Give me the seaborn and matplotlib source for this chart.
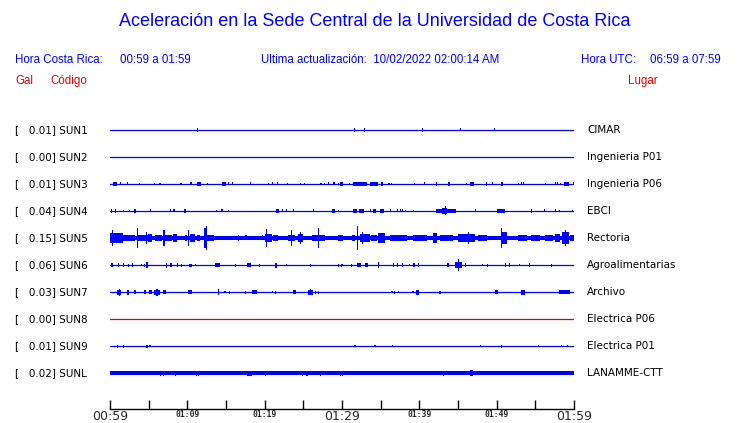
import pandas as pd
import seaborn as sns
import matplotlib
matplotlib.use("Agg")
import matplotlib.pyplot as plt
import matplotlib.transforms as mtransforms

# station info (top to bottom)
codes = ["SUN1", "SUN2", "SUN3", "SUN4", "SUN5", "SUN6", "SUN7", "SUN8", "SUN9", "SUNL"]
places = ["CIMAR", "Ingenieria P01", "Ingenieria P06", "EBCI", "Rectoria",
          "Agroalimentarias", "Archivo", "Electrica P06", "Electrica P01", "LANAMME-CTT"]
gal = [0.01, 0.00, 0.01, 0.04, 0.15, 0.06, 0.03, 0.00, 0.01, 0.02]

# window: minutes after 00:59 local time
t_start, t_end = 0, 60

# continuous background noise half-width per station
band_amp = [0, 0, 0, 0, 1.8, 0, 0, 0, 0, 1.6]

# bursts: (start minute, end minute, half amplitude)
sun1 = [(11.2, 11.2, 2), (31.5, 31.5, 2), (32.8, 32.8, 2), (40.3, 40.3, 2),
        (45.3, 45.3, 1.5), (49.6, 49.6, 1.5)]
sun2 = []
sun3 = [(0.4, 0.9, 2), (1.3, 1.3, 1.5), (2.2, 2.2, 1.5), (3.7, 3.7, 1), (5.7, 5.7, 1),
        (6.4, 6.4, 1), (9.1, 9.1, 1), (10.4, 10.4, 1.5), (11.3, 11.8, 2), (12.5, 12.5, 1),
        (14.5, 15.0, 2), (15.3, 15.3, 1.5), (15.8, 15.8, 1.5), (18.1, 18.1, 1.5),
        (20.4, 20.4, 1), (20.9, 21.1, 1.5), (21.6, 21.6, 1.5), (22.9, 22.9, 1),
        (24.6, 24.6, 1), (25.1, 25.1, 1), (27.2, 27.2, 1), (27.7, 27.7, 1),
        (28.2, 28.2, 1.5), (28.9, 28.9, 1.5), (29.5, 29.5, 1), (29.8, 30.1, 2),
        (30.9, 30.9, 1), (31.4, 33.2, 2), (33.6, 34.6, 2), (35.0, 35.3, 2),
        (36.0, 36.0, 1), (36.3, 36.3, 1), (39.3, 39.3, 1), (40.6, 40.6, 1.5),
        (42.1, 42.1, 2), (43.7, 44.0, 2), (46.0, 46.0, 1), (46.6, 47.1, 2),
        (48.6, 48.8, 2), (49.4, 49.4, 1.5), (50.6, 50.8, 2), (52.8, 52.8, 1),
        (53.1, 53.1, 1.5), (53.4, 53.4, 1.5), (56.2, 56.2, 1), (57.5, 57.5, 1.5),
        (57.8, 57.8, 1.5), (58.2, 58.2, 1), (58.7, 59.3, 2), (59.9, 59.9, 1.5)]
sun4 = [(0.1, 0.1, 2), (0.6, 0.6, 2), (1.7, 1.7, 1), (2.4, 2.4, 1), (3.1, 3.4, 2),
        (5.2, 5.2, 1.5), (7.7, 7.7, 1.5), (8.2, 8.2, 1.5), (9.6, 9.8, 2), (13.7, 13.7, 1),
        (14.4, 14.4, 1.5), (15.2, 15.2, 1), (21.5, 21.9, 2), (22.2, 22.2, 1.5),
        (22.8, 22.8, 1.5), (23.6, 23.6, 1.5), (26.2, 26.2, 1.5), (28.7, 29.1, 2),
        (29.5, 29.5, 1), (31.4, 31.9, 2), (32.2, 32.8, 2), (33.6, 33.6, 1.5),
        (34.0, 34.4, 2), (34.9, 35.4, 2), (36.2, 36.2, 1.5), (37.1, 37.1, 1.5),
        (37.5, 37.5, 1.5), (37.7, 37.7, 1.5), (38.1, 38.1, 1), (39.2, 39.2, 1),
        (42.2, 44.7, 2), (42.9, 43.6, 3), (43.3, 43.3, 4.5), (47.2, 47.2, 1.5),
        (50.0, 51.1, 2), (54.4, 54.4, 2), (56.1, 56.1, 1.5), (57.5, 57.5, 1.5),
        (58.0, 58.0, 1), (59.7, 59.7, 1)]
sun5 = [(0.0, 1.7, 5), (0.3, 0.3, 8), (1.7, 3.2, 3), (3.5, 3.5, 10), (3.6, 4.9, 3),
        (4.6, 4.6, 6), (4.9, 5.4, 4), (5.8, 6.7, 3), (6.9, 6.9, 8), (7.1, 8.0, 3),
        (8.1, 8.7, 4), (9.7, 10.0, 3), (10.1, 10.1, 8), (10.3, 11.0, 4), (11.2, 11.6, 3),
        (12.2, 12.2, 10), (12.4, 12.4, 12), (12.6, 13.4, 3), (16.5, 16.7, 3),
        (17.5, 17.7, 2.5), (19.6, 19.6, 2.5), (20.0, 20.9, 4), (20.2, 20.2, 9),
        (21.1, 21.7, 3), (23.0, 23.9, 3), (23.4, 23.4, 8), (24.3, 25.0, 4),
        (24.6, 24.6, 6), (26.1, 27.8, 3), (26.9, 26.9, 10), (29.5, 30.1, 3),
        (31.3, 31.7, 3), (31.9, 31.9, 12), (32.3, 33.6, 4), (32.6, 32.6, 6),
        (33.8, 34.5, 3), (34.7, 35.6, 5), (36.2, 38.4, 3), (39.2, 41.0, 3),
        (41.8, 42.3, 5), (42.7, 44.4, 3), (45.0, 47.2, 4), (46.3, 46.3, 6),
        (47.6, 48.7, 3), (50.6, 51.3, 6), (50.6, 50.6, 10), (52.8, 53.9, 3),
        (54.5, 55.6, 3), (56.2, 57.3, 3), (57.5, 58.2, 4), (58.4, 59.3, 6),
        (58.8, 58.8, 8), (59.5, 60.0, 3)]
sun6 = [(0.1, 0.4, 2), (1.0, 1.0, 2), (1.7, 1.7, 2), (2.3, 2.3, 1.5), (2.8, 2.8, 2),
        (4.0, 4.0, 1), (4.4, 4.4, 1.5), (4.7, 4.9, 3), (7.2, 7.2, 2.5), (7.7, 8.0, 2),
        (8.7, 8.7, 2), (9.2, 9.2, 1.5), (10.2, 10.2, 1.5), (10.4, 10.4, 1.5),
        (11.0, 11.0, 1), (13.6, 14.2, 2), (16.2, 16.2, 1.5), (17.7, 18.2, 2),
        (19.3, 19.3, 1.5), (21.4, 21.4, 2.5), (22.7, 22.7, 1), (25.9, 25.9, 1.5),
        (29.5, 29.5, 1.5), (29.9, 29.9, 1.5), (30.0, 30.0, 1), (31.2, 31.2, 1.5),
        (31.9, 32.5, 2), (33.0, 33.3, 2), (34.6, 34.6, 3), (36.6, 36.6, 2),
        (37.1, 37.1, 2), (37.7, 37.7, 2), (38.6, 38.6, 1), (39.2, 39.4, 2),
        (39.8, 39.8, 2), (43.6, 43.9, 2), (44.6, 45.5, 3), (45.0, 45.0, 6),
        (45.9, 45.9, 2), (48.1, 48.1, 1), (48.7, 48.7, 1.5), (51.1, 51.1, 2),
        (51.6, 51.6, 2), (52.9, 52.9, 1), (54.2, 54.2, 2), (57.0, 57.0, 1.5)]
sun7 = [(0.9, 1.4, 2.5), (1.2, 1.2, 3.5), (2.2, 2.5, 2.5), (3.1, 3.3, 2), (4.4, 4.6, 2),
        (5.0, 5.4, 2), (5.7, 6.5, 2.5), (6.0, 6.0, 3.5), (6.9, 7.3, 2), (10.1, 10.6, 2),
        (14.0, 14.0, 3), (14.8, 14.8, 1), (15.4, 15.4, 1.5), (17.4, 17.4, 1.5),
        (18.3, 19.0, 2), (20.9, 20.9, 1), (21.3, 21.3, 1.5), (23.7, 24.0, 2),
        (25.6, 26.2, 2.5), (25.8, 25.8, 3), (26.5, 26.5, 1.5), (26.9, 26.9, 1.5),
        (36.4, 36.4, 1), (36.7, 36.7, 1.5), (37.2, 37.2, 1), (39.1, 39.1, 1),
        (39.6, 40.0, 2.5), (42.6, 42.6, 1.5), (49.8, 50.2, 2), (53.1, 53.7, 2.5),
        (58.1, 59.5, 2)]
sun8 = []
sun9 = [(0.9, 0.9, 1.5), (1.7, 1.7, 1.5), (4.7, 4.7, 1.5), (5.1, 5.1, 1),
        (31.6, 31.6, 1), (34.2, 34.2, 1), (36.5, 36.5, 1), (47.8, 47.8, 1),
        (50.6, 50.6, 1.5), (55.3, 55.3, 1), (58.3, 58.3, 1), (59.1, 59.1, 1)]
sunl = [(6.5, 6.5, 2.5), (6.8, 6.8, 2.5), (8.4, 8.4, 2.5), (11.1, 11.1, 2.5),
        (11.4, 11.4, 2.5), (17.7, 18.3, 2.5), (20.0, 20.0, 2.5), (24.8, 24.8, 2.5),
        (25.4, 25.4, 2.5), (27.1, 27.1, 2.5), (29.7, 29.7, 2.5), (30.0, 30.0, 2.5),
        (43.0, 43.0, 2.5), (46.6, 46.9, 3)]

bursts = [sun1, sun2, sun3, sun4, sun5, sun6, sun7, sun8, sun9, sunl]

blue = "#0000ff"
red = "#e00000"
trace_colors = {c: (red if c == "SUN8" else blue) for c in codes}

row_gap = 27  # vertical distance between traces (pixel-like units)
W, H = 740, 423

sns.set_style("white")
fig = plt.figure(figsize=(W / 100, H / 100), dpi=100)
ax = fig.add_axes([110 / W, (H - 409) / H, 464 / W, (409 - 103) / H])

# baselines through seaborn
rows = []
for i, c in enumerate(codes):
    for t in (t_start, t_end):
        rows.append({"code": c, "minute": t, "level": i * row_gap})
df_base = pd.DataFrame(rows)
sns.lineplot(data=df_base, x="minute", y="level", hue="code", palette=trace_colors,
             legend=False, linewidth=0.9, ax=ax)

min_w = 0.15  # about one pixel in minutes
for i, c in enumerate(codes):
    y0 = i * row_gap
    col = trace_colors[c]
    if band_amp[i] > 0:
        ax.bar(t_start, 2 * band_amp[i], width=t_end - t_start, bottom=y0 - band_amp[i],
               align="edge", color=col, linewidth=0)
    if bursts[i]:
        b = pd.DataFrame(bursts[i], columns=["t0", "t1", "amp"])
        w = (b["t1"] - b["t0"]).clip(lower=min_w)
        ax.bar(b["t0"], 2 * b["amp"], width=w, bottom=y0 - b["amp"],
               align="edge", color=col, linewidth=0)

ax.set_xlim(t_start, t_end)
ax.set_ylim(279, -27)
ax.set_xlabel("")
ax.set_ylabel("")
ax.set_yticks([])
for s in ["top", "left", "right"]:
    ax.spines[s].set_visible(False)
ax.spines["bottom"].set_color("black")
ax.spines["bottom"].set_linewidth(1.0)

tick_minutes = list(range(0, 61, 5))
tick_labels = []
for m in tick_minutes:
    tot = 59 + m
    tick_labels.append(f"{tot // 60:02d}:{tot % 60:02d}" if m % 10 == 0 else "")
ax.set_xticks(tick_minutes)
ax.set_xticklabels(tick_labels)
ax.tick_params(axis="x", bottom=True, direction="in", length=6.5, width=1.0,
               color="black", pad=1)
for m, lab in zip(tick_minutes, ax.get_xticklabels()):
    if m in (0, 30, 60):
        lab.set_fontsize(9)
        lab.set_family("DejaVu Sans")
    else:
        lab.set_fontsize(5.8)
        lab.set_family("DejaVu Sans Mono")
        lab.set_fontweight("bold")

# station labels
trans = mtransforms.blended_transform_factory(fig.transFigure, ax.transData)
for i, c in enumerate(codes):
    y0 = i * row_gap
    ax.text(15 / W, y0, f"[   {gal[i]:.2f}] {c}", transform=trans, ha="left", va="center",
            fontsize=7.5, family="DejaVu Sans", color="black")
    ax.text(587 / W, y0, places[i], transform=trans, ha="left", va="center",
            fontsize=7.5, family="DejaVu Sans", color="black")

# header
hfont = "Liberation Sans"
fig.text(375 / W, 1 - 22 / H, "Aceleración en la Sede Central de la Universidad de Costa Rica",
         ha="center", va="center", fontsize=13, color=blue, family=hfont)
fig.text(15 / W, 1 - 60 / H, "Hora Costa Rica:", ha="left", va="center", fontsize=8.3,
         color=blue, family=hfont)
fig.text(120 / W, 1 - 60 / H, "00:59 a 01:59", ha="left", va="center", fontsize=8.3,
         color=blue, family=hfont)
fig.text(261 / W, 1 - 60 / H, "Ultima actualización:  10/02/2022 02:00:14 AM", ha="left",
         va="center", fontsize=8.3, color=blue, family=hfont)
fig.text(581 / W, 1 - 60 / H, "Hora UTC:", ha="left", va="center", fontsize=8.3,
         color=blue, family=hfont)
fig.text(650 / W, 1 - 60 / H, "06:59 a 07:59", ha="left", va="center", fontsize=8.3,
         color=blue, family=hfont)
fig.text(15 / W, 1 - 81 / H, "Gal", ha="left", va="center", fontsize=8.3, color=red, family=hfont)
fig.text(50 / W, 1 - 81 / H, "Código", ha="left", va="center", fontsize=8.3, color=red, family=hfont)
fig.text(628 / W, 1 - 81 / H, "Lugar", ha="left", va="center", fontsize=8.3, color=red, family=hfont)

fig.savefig("out.png", dpi=100)
